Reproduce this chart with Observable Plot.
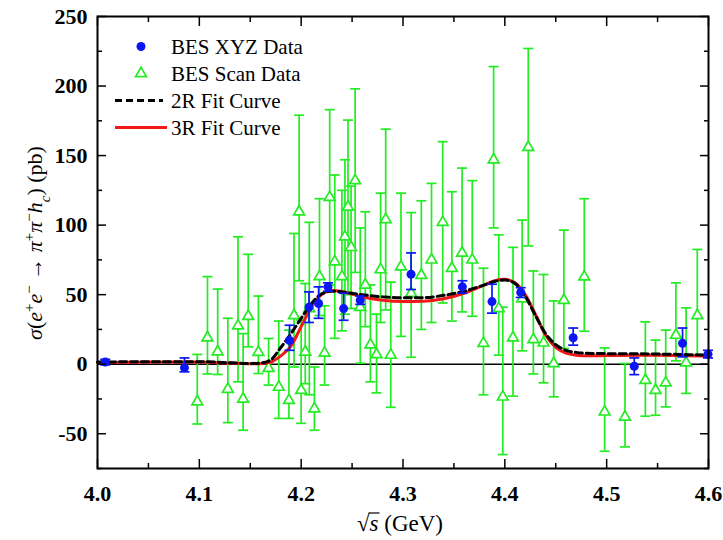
<!DOCTYPE html>
<html><head><meta charset="utf-8">
<script src="https://cdn.jsdelivr.net/npm/d3@7"></script>
<script src="https://cdn.jsdelivr.net/npm/@observablehq/plot@0.6"></script>
<style>body{margin:0;background:#fff} svg text{font-family:'Liberation Serif','Times New Roman',serif !important}</style>
</head><body><div id="chart"></div>
<script>
// BES XYZ data (blue)
const xyzX  = [4.0076, 4.0854, 4.1886, 4.2077, 4.2171, 4.2263, 4.2417, 4.2580, 4.3079, 4.3583, 4.3874, 4.4156, 4.4671, 4.5271, 4.5745, 4.5995];
const xyzY  = [1.5, -2.6, 17, 41, 43.6, 55.6, 40, 46, 64.7, 55.6, 45, 51.6, 19, -1.5, 15, 7.2];
const xyzLo = [-0.5, -5.5, 10, 30, 33, 52.5, 31.6, 43, 53.7, 51, 36.7, 48, 13.7, -7.5, 5.3, 4.5];
const xyzHi = [3.5, 4.5, 28, 52, 55.6, 58.5, 51, 49, 80, 60, 57.5, 55, 26, 4.5, 26, 10];

// BES scan data (green)
const scanX  = [4.098,4.108,4.118,4.128,4.138,4.143,4.148,4.158,4.168,4.178,4.188,4.193,4.198,4.200,4.204,4.208,4.213,4.218,4.223,4.228,4.233,4.240,4.243,4.246,4.249,4.253,4.258,4.263,4.268,4.274,4.278,4.283,4.288,4.298,4.308,4.318,4.328,4.339,4.348,4.358,4.368,4.379,4.389,4.394,4.398,4.408,4.417,4.423,4.428,4.438,4.448,4.458,4.478,4.498,4.518,4.538,4.548,4.558,4.568,4.578,4.589];
const scanY  = [-27,19,9,-18,27.6,-25,34.5,8.6,-3,-16.5,-26,35,109.6,-18.7,8.8,40,-32,63,8,120,73.6,63,91.6,113,84,132,41,57,14,7,68,104,6.5,70,51,64,75,102,69,80,75,15,147,40,-23.5,19,47,156,17.7,15.3,0.5,46,62.8,-34.3,-38,-11.5,-18.7,-13.4,20.9,1,35];
const scanLo = [-43,-7,-7.4,-42,-12.7,-47.5,12.5,-6.7,-15,-39,-39,-2,60,-42.5,-14,-22,-47.5,35,-15,57,18.6,24,36,50,40,66,0.7,27,-12.7,-20.6,30,39,-31,20,5,25,30,44,31,37.6,34.5,-22,98,6.5,-65,-23,9.6,85,-7,-13.4,-23.5,11.3,23.7,-62.6,-59.5,-37.4,-36.7,-30.7,2.4,-21,6.5];
const scanHi = [7,63,54,33,91.6,22,79,49,18.5,31,24.5,94,179,31.6,58,102,-2,119,42,183,136,125,147,175.5,128,198,98,109.6,57,36,123,169,59,123,109,117.5,130,160,124,141,132,69,214,93,41,84,103.6,227,67,64.5,45.5,96.4,119,11.7,0.5,30.4,17.3,24.5,58.5,40.5,82.5];

// Fit curves
const fitX  = [4.00,4.05,4.10,4.13,4.15,4.16,4.17,4.18,4.19,4.20,4.21,4.22,4.23,4.24,4.25,4.26,4.28,4.30,4.32,4.34,4.36,4.38,4.39,4.40,4.41,4.42,4.43,4.44,4.45,4.46,4.47,4.48,4.50,4.55,4.60];
const fit3R = [1.2,1.5,1.5,0.8,0.3,0.4,1.5,6,13,27,41,50,53,52.3,50.5,48.5,46,45,45.2,47,51,57,60,61,58.5,50,36,21,12,8,6.5,6,6.2,6.5,5.8];
const fit2R = [1.5,1.8,1.8,1,0.5,0.8,3,12,22,33,43.5,50.5,52.5,52,51,50,48.4,47.7,47.8,49.5,52.5,57,59.5,60.5,58,49,35,22,14,10,8.5,7.8,7.6,7.3,6.5];

// Axis ticks
const xMajor = [4.0,4.1,4.2,4.3,4.4,4.5,4.6];
const xMinor = [4.05,4.15,4.25,4.35,4.45,4.55];
const yMajor = [-50,0,50,100,150,200,250];
const yMinor = [-75,-25,25,75,125,175,225];

const BLUE = "#0b16f2", GREEN = "#22ec22", RED = "#f01818";
const F = "'Liberation Serif', 'Times New Roman', serif";

const xyz = xyzX.map((x,i)=>({x, y: xyzY[i], lo: xyzLo[i], hi: xyzHi[i]}));
const scan = scanX.map((x,i)=>({x, y: scanY[i], lo: scanLo[i], hi: scanHi[i]}));
const fit = fitX.map((x,i)=>({x, r: fit3R[i], b: fit2R[i]}));

const capSym = {draw(ctx, size){ const w = Math.sqrt(size/Math.PI); ctx.moveTo(-w,0); ctx.lineTo(w,0); }};

const chart = Plot.plot({
  width: 723, height: 540,
  marginLeft: 97, marginRight: 15, marginTop: 16, marginBottom: 72,
  x: {domain: [4.0, 4.6]},
  y: {domain: [-75, 250]},
  style: {fontFamily: F, background: "white", color: "black"},
  marks: [
    Plot.ruleY([0], {stroke: "black", strokeWidth: 1.5}),
    Plot.ruleX(scan, {x: "x", y1: "lo", y2: "hi", stroke: GREEN, strokeWidth: 1.7}),
    Plot.dot(scan, {x: "x", y: "lo", symbol: capSym, r: 5, stroke: GREEN, strokeWidth: 1.7}),
    Plot.dot(scan, {x: "x", y: "hi", symbol: capSym, r: 5, stroke: GREEN, strokeWidth: 1.7}),
    Plot.dot(scan, {x: "x", y: "y", symbol: "triangle", r: 4, stroke: GREEN, fill: "white", strokeWidth: 1.7}),
    Plot.line(fit, {x: "x", y: "r", stroke: RED, strokeWidth: 3, curve: "monotone-x"}),
    Plot.line(fit, {x: "x", y: "b", stroke: "black", strokeWidth: 3, strokeDasharray: "7,4", curve: "monotone-x"}),
    Plot.ruleX(xyz, {x: "x", y1: "lo", y2: "hi", stroke: BLUE, strokeWidth: 1.7}),
    Plot.dot(xyz, {x: "x", y: "lo", symbol: capSym, r: 5, stroke: BLUE, strokeWidth: 1.7}),
    Plot.dot(xyz, {x: "x", y: "hi", symbol: capSym, r: 5, stroke: BLUE, strokeWidth: 1.7}),
    Plot.dot(xyz, {x: "x", y: "y", r: 4.5, fill: BLUE}),
    // inward ticks on all sides
    Plot.axisX({anchor: "bottom", ticks: xMajor, tickSize: -9, fill: "none", strokeWidth: 1.5}),
    Plot.axisX({anchor: "bottom", ticks: xMinor, tickSize: -5, fill: "none", strokeWidth: 1.5}),
    Plot.axisX({anchor: "top", ticks: xMajor, tickSize: -9, fill: "none", strokeWidth: 1.5}),
    Plot.axisX({anchor: "top", ticks: xMinor, tickSize: -5, fill: "none", strokeWidth: 1.5}),
    Plot.axisY({anchor: "left", ticks: yMajor, tickSize: -9, fill: "none", strokeWidth: 1.5}),
    Plot.axisY({anchor: "left", ticks: yMinor, tickSize: -5, fill: "none", strokeWidth: 1.5}),
    Plot.axisY({anchor: "right", ticks: yMajor, tickSize: -9, fill: "none", strokeWidth: 1.5}),
    Plot.axisY({anchor: "right", ticks: yMinor, tickSize: -5, fill: "none", strokeWidth: 1.5}),
    // tick labels
    Plot.axisX({anchor: "bottom", ticks: xMajor, tickSize: 0, tickPadding: 17, tickFormat: d => d.toFixed(1), fontSize: 22, fontWeight: "bold", fontFamily: F, label: null}),
    Plot.axisY({anchor: "left", ticks: yMajor, tickSize: 0, tickPadding: 10, tickFormat: d => String(d), fontSize: 22, fontWeight: "bold", fontFamily: F, label: null}),
    Plot.frame({stroke: "black", strokeWidth: 2})
  ]
});
document.getElementById("chart").appendChild(chart);

// Axis titles and legend
const svg = d3.select(chart);
svg.selectAll("text").attr("font-family", F);

const xl = svg.append("text").attr("x", 400).attr("y", 531).attr("text-anchor", "middle")
  .attr("font-family", F).attr("font-size", 23).attr("fill", "black");
xl.append("tspan").text("√");
xl.append("tspan").attr("font-style", "italic").text("s");
xl.append("tspan").text(" (GeV)");
// overbar of the square root over "s"
{
  const n = xl.node();
  const r = n.getExtentOfChar(0), s = n.getExtentOfChar(1);
  const yTop = r.y + 2;
  svg.append("line").attr("x1", r.x + r.width - 1).attr("x2", s.x + s.width + 1)
    .attr("y1", yTop).attr("y2", yTop).attr("stroke", "black").attr("stroke-width", 1.2);
}

const yl = svg.append("text").attr("transform", "translate(42,243) rotate(-90)").attr("text-anchor", "middle")
  .attr("font-family", F).attr("font-size", 22).attr("fill", "black");
const parts = [["σ","i"],["(",""],["e","i"],["+","sup"],["e","i"],["−","sup"],[" → ",""],["π","i"],["+","sup"],["π","i"],["−","sup"],["h","i"],["c","sub"],[") (pb)",""]];
for (const [t, k] of parts) {
  const ts = yl.append("tspan").text(t);
  if (k === "i") ts.attr("font-style", "italic");
  if (k === "sup") ts.attr("baseline-shift", "super").attr("font-size", 15);
  if (k === "sub") ts.attr("baseline-shift", "sub").attr("font-size", 15).attr("font-style", "italic");
}

const lg = svg.append("g").attr("font-family", F).attr("font-size", 21).attr("fill", "black").attr("text-anchor", "start");
const rows = [46.5, 73.5, 100.5, 127.5];
lg.append("circle").attr("cx", 141).attr("cy", rows[0]).attr("r", 4.5).attr("fill", BLUE);
lg.append("path").attr("d", d3.symbol(d3.symbolTriangle, 50)()).attr("transform", `translate(141,${rows[1]})`)
  .attr("fill", "white").attr("stroke", GREEN).attr("stroke-width", 1.7);
lg.append("line").attr("x1", 115).attr("x2", 163).attr("y1", rows[2]).attr("y2", rows[2])
  .attr("stroke", "black").attr("stroke-width", 3).attr("stroke-dasharray", "7,4");
lg.append("line").attr("x1", 115).attr("x2", 167).attr("y1", rows[3]).attr("y2", rows[3])
  .attr("stroke", RED).attr("stroke-width", 3);
const labels = ["BES XYZ Data", "BES Scan Data", "2R Fit Curve", "3R Fit Curve"];
labels.forEach((t, i) => lg.append("text").attr("x", 171).attr("y", rows[i]).attr("dy", "0.35em").attr("text-anchor", "start").text(t));
</script>
</body></html>
